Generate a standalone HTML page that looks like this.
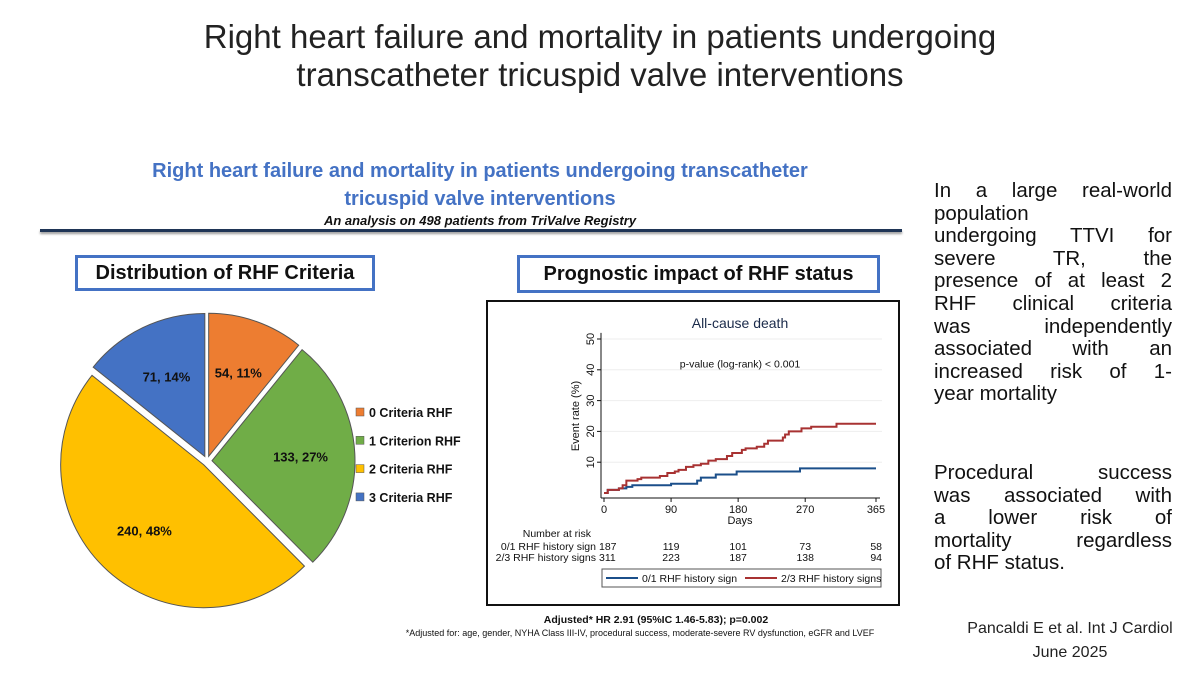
<!DOCTYPE html>
<html><head><meta charset="utf-8">
<style>
body{margin:0;background:#fff;}
#root{position:relative;width:1200px;height:675px;overflow:hidden;background:#fff;font-family:"Liberation Sans",sans-serif;}
.abs{position:absolute;}
.side div{text-align:justify;text-align-last:justify;height:22.6px;white-space:nowrap;}
.side div.l{text-align-last:left;}
.side div.sp{height:56px;}
</style></head>
<body>
<div id="root">
<div class="abs" style="left:0;top:18px;width:1200px;text-align:center;font-size:33px;line-height:38px;color:#222;">Right heart failure and mortality in patients undergoing<br>transcatheter tricuspid valve interventions</div>

<div class="abs" style="left:40px;top:157px;width:880px;text-align:center;font-size:20px;line-height:28px;font-weight:bold;color:#4472C4;">Right heart failure and mortality in patients undergoing transcatheter<br>tricuspid valve interventions</div>
<div class="abs" style="left:40px;top:213px;width:880px;text-align:center;font-size:13px;font-weight:bold;font-style:italic;color:#111;">An analysis on 498 patients from TriValve Registry</div>
<div class="abs" style="left:40px;top:229px;width:862px;height:3px;background:#1f3556;box-shadow:0 2px 2px #999;"></div>

<div class="abs" style="left:75px;top:255px;width:294px;height:30px;border:3px solid #4472C4;text-align:center;font-size:20px;font-weight:bold;line-height:30px;color:#111;">Distribution of RHF Criteria</div>
<div class="abs" style="left:517px;top:255px;width:357px;height:32px;border:3px solid #4472C4;text-align:center;font-size:20px;font-weight:bold;line-height:32px;color:#111;">Prognostic impact of RHF status</div>

<svg class="abs" style="left:0;top:0" width="1200" height="675">
<g id="pie"></g>
<g id="pieLegend"></g>
<rect x="487" y="301" width="412" height="304" fill="#fff" stroke="#111" stroke-width="2"/>
<g id="km"></g>
</svg>

<div class="abs" style="left:480px;top:614px;width:352px;text-align:center;font-size:10.5px;font-weight:bold;color:#111;">Adjusted* HR 2.91 (95%IC 1.46-5.83); p=0.002</div>
<div class="abs" style="left:370px;top:628px;width:540px;text-align:center;font-size:9px;color:#111;white-space:nowrap;">*Adjusted for: age, gender, NYHA Class III-IV, procedural success, moderate-severe RV dysfunction, eGFR and LVEF</div>

<div class="abs side" style="left:934px;top:180px;width:238px;font-size:20.5px;line-height:22.6px;color:#111;">
<div>In a large real-world</div><div class="l">population</div><div>undergoing TTVI for</div><div>severe TR, the</div><div>presence of at least 2</div><div>RHF clinical criteria</div><div>was independently</div><div>associated with an</div><div>increased risk of 1-</div><div class="l">year mortality</div>
<div class="l sp"></div>
<div>Procedural success</div><div>was associated with</div><div>a lower risk of</div><div>mortality regardless</div><div class="l">of RHF status.</div>
</div>
<div class="abs" style="left:950px;top:617px;width:240px;text-align:center;font-size:16px;line-height:24px;color:#222;">Pancaldi E et al. Int J Cardiol<br>June 2025</div>
</div>

<script>
const pieLabels=["0 Criteria RHF","1 Criterion RHF","2 Criteria RHF","3 Criteria RHF"];
const pieCounts=[54,133,240,71];
const piePercents=["11%","27%","48%","14%"];
const pieColors=["#ED7D31","#70AD47","#FFC000","#4472C4"];

const kmDaysTicks=[0,90,180,270,365];
const kmYTicks=[10,20,30,40,50];
const blueT=[0,5,20,30,38,90,125,130,150,178,263,365];
const blueY=[0,1,1.5,2,2.5,3,4,5,6,7,8,8];
const redT=[0,5,20,25,30,45,50,75,85,95,100,110,120,130,140,150,165,172,185,190,205,215,220,240,243,248,265,278,312,365];
const redY=[0,1,1.5,2.5,4,4.5,5,5.5,6.5,7,7.5,8.5,9,9.5,10.5,11,12,13,14,14.5,15,16,17,18,19,20,21,21.5,22.5,22.5];
const riskGroups=["0/1 RHF history sign","2/3 RHF history signs"];
const risk01=[187,119,101,73,58];
const risk23=[311,223,187,138,94];

const NS="http://www.w3.org/2000/svg";
function mk(tag,attrs,parent,txt){const e=document.createElementNS(NS,tag);for(const k in attrs)e.setAttribute(k,attrs[k]);if(txt!==undefined)e.textContent=txt;parent.appendChild(e);return e;}

// Pie
const pie=document.getElementById('pie');
const cx=207,cy=461,R=143,off=5;
const total=pieCounts.reduce((a,b)=>a+b,0);
let a0=-Math.PI/2;
pieCounts.forEach((v,i)=>{
  const ang=v/total*2*Math.PI,a1=a0+ang,mid=a0+ang/2;
  const ox=cx+off*Math.cos(mid),oy=cy+off*Math.sin(mid);
  const large=ang>Math.PI?1:0;
  const d=`M${ox},${oy} L${ox+R*Math.cos(a0)},${oy+R*Math.sin(a0)} A${R},${R} 0 ${large} 1 ${ox+R*Math.cos(a1)},${oy+R*Math.sin(a1)} Z`;
  const p=mk('path',{d:d,fill:pieColors[i],stroke:'#555','stroke-width':1},pie);
  
  
  const lr=R*0.62;
  const t=mk('text',{x:ox+lr*Math.cos(mid),y:oy+lr*Math.sin(mid)+5,'text-anchor':'middle','font-size':13,'font-weight':'bold',fill:'#111'},pie,pieCounts[i]+', '+piePercents[i]);
  
  
  a0=a1;
});
const pl=document.getElementById('pieLegend');
pieLabels.forEach((l,i)=>{
  const y=413+i*28.3;
  const r=mk('rect',{x:356,y:y-5,width:8,height:8,fill:pieColors[i],stroke:'#555','stroke-width':0.5},pl);
  
  
  const t=mk('text',{x:369,y:y+4,'font-size':12.5,'font-weight':'bold',fill:'#111'},pl,l);
  
  
});

// KM
const km=document.getElementById('km');
const X0=604,X1=876,Yb=493,pxPer10=30.8;
const xs=d=>X0+(X1-X0)*d/365;
const ys=v=>Yb-v*pxPer10/10;
const tt=mk('text',{x:740,y:328,'text-anchor':'middle','font-size':14,fill:'#1a2a4a'},km,'All-cause death');


kmYTicks.forEach(v=>{
  const g=mk('line',{x1:X0-6,x2:X1+6,y1:ys(v),y2:ys(v),stroke:'#eee','stroke-width':1},km);
  
  
  mk('line',{x1:X0-7,x2:X0-3,y1:ys(v),y2:ys(v),stroke:'#111'},km);
  const t=mk('text',{x:0,y:0,transform:`translate(${X0-10},${ys(v)}) rotate(-90)`,'text-anchor':'middle','font-size':11,fill:'#111'},km,v);
  
  
});
mk('line',{x1:X0-3,x2:X0-3,y1:ys(52),y2:Yb+5,stroke:'#111'},km);
mk('line',{x1:X0-3,x2:X1+4,y1:Yb+5,y2:Yb+5,stroke:'#111'},km);
const yl=mk('text',{x:0,y:0,transform:`translate(579,${ys(25)}) rotate(-90)`,'text-anchor':'middle','font-size':11,fill:'#111'},km,'Event rate (%)');


kmDaysTicks.forEach(d=>{
  mk('line',{x1:xs(d),x2:xs(d),y1:Yb+5,y2:Yb+9,stroke:'#111'},km);
  const t=mk('text',{x:xs(d),y:Yb+20,'text-anchor':'middle','font-size':11,fill:'#111'},km,d);
  
  
});
const xl=mk('text',{x:740,y:Yb+31,'text-anchor':'middle','font-size':11,fill:'#111'},km,'Days');


const pv=mk('text',{x:740,y:ys(43)+7,'text-anchor':'middle','font-size':10.5,fill:'#111'},km,'p-value (log-rank) < 0.001');


function step(T,Y){let d=`M${xs(T[0])},${ys(Y[0])}`;for(let i=1;i<T.length;i++){d+=` H${xs(T[i])} V${ys(Y[i])}`;}return d;}
const bl=mk('path',{d:step(blueT,blueY),fill:'none',stroke:'#1b4f8a','stroke-width':2},km);


const rl=mk('path',{d:step(redT,redY),fill:'none',stroke:'#a83232','stroke-width':2},km);


// risk table
const rh=mk('text',{x:591,y:537,'text-anchor':'end','font-size':10.5,fill:'#111'},km,'Number at risk');


[risk01,risk23].forEach((row,r)=>{
  const y=550+r*11;
  const t=mk('text',{x:596,y:y,'text-anchor':'end','font-size':10.5,fill:'#111'},km,riskGroups[r]);
  
  
  row.forEach((v,i)=>{
    const anc=i===0?'start':(i===row.length-1?'end':'middle');
    const c=mk('text',{x:i===0?xs(0)-5:xs(kmDaysTicks[i])+(i===row.length-1?6:0),y:y,'text-anchor':anc,'font-size':10.5,fill:'#111'},km,v);
    
    
  });
});
const lb=mk('rect',{x:602,y:569,width:279,height:18,fill:'#fff',stroke:'#555','stroke-width':1},km);


mk('line',{x1:606,x2:638,y1:578,y2:578,stroke:'#1b4f8a','stroke-width':2},km);
const l1=mk('text',{x:642,y:582,'font-size':10.5,fill:'#111'},km,'0/1 RHF history sign');


mk('line',{x1:745,x2:777,y1:578,y2:578,stroke:'#a83232','stroke-width':2},km);
const l2=mk('text',{x:781,y:582,'font-size':10.5,fill:'#111'},km,'2/3 RHF history signs');


</script>
</body></html>
